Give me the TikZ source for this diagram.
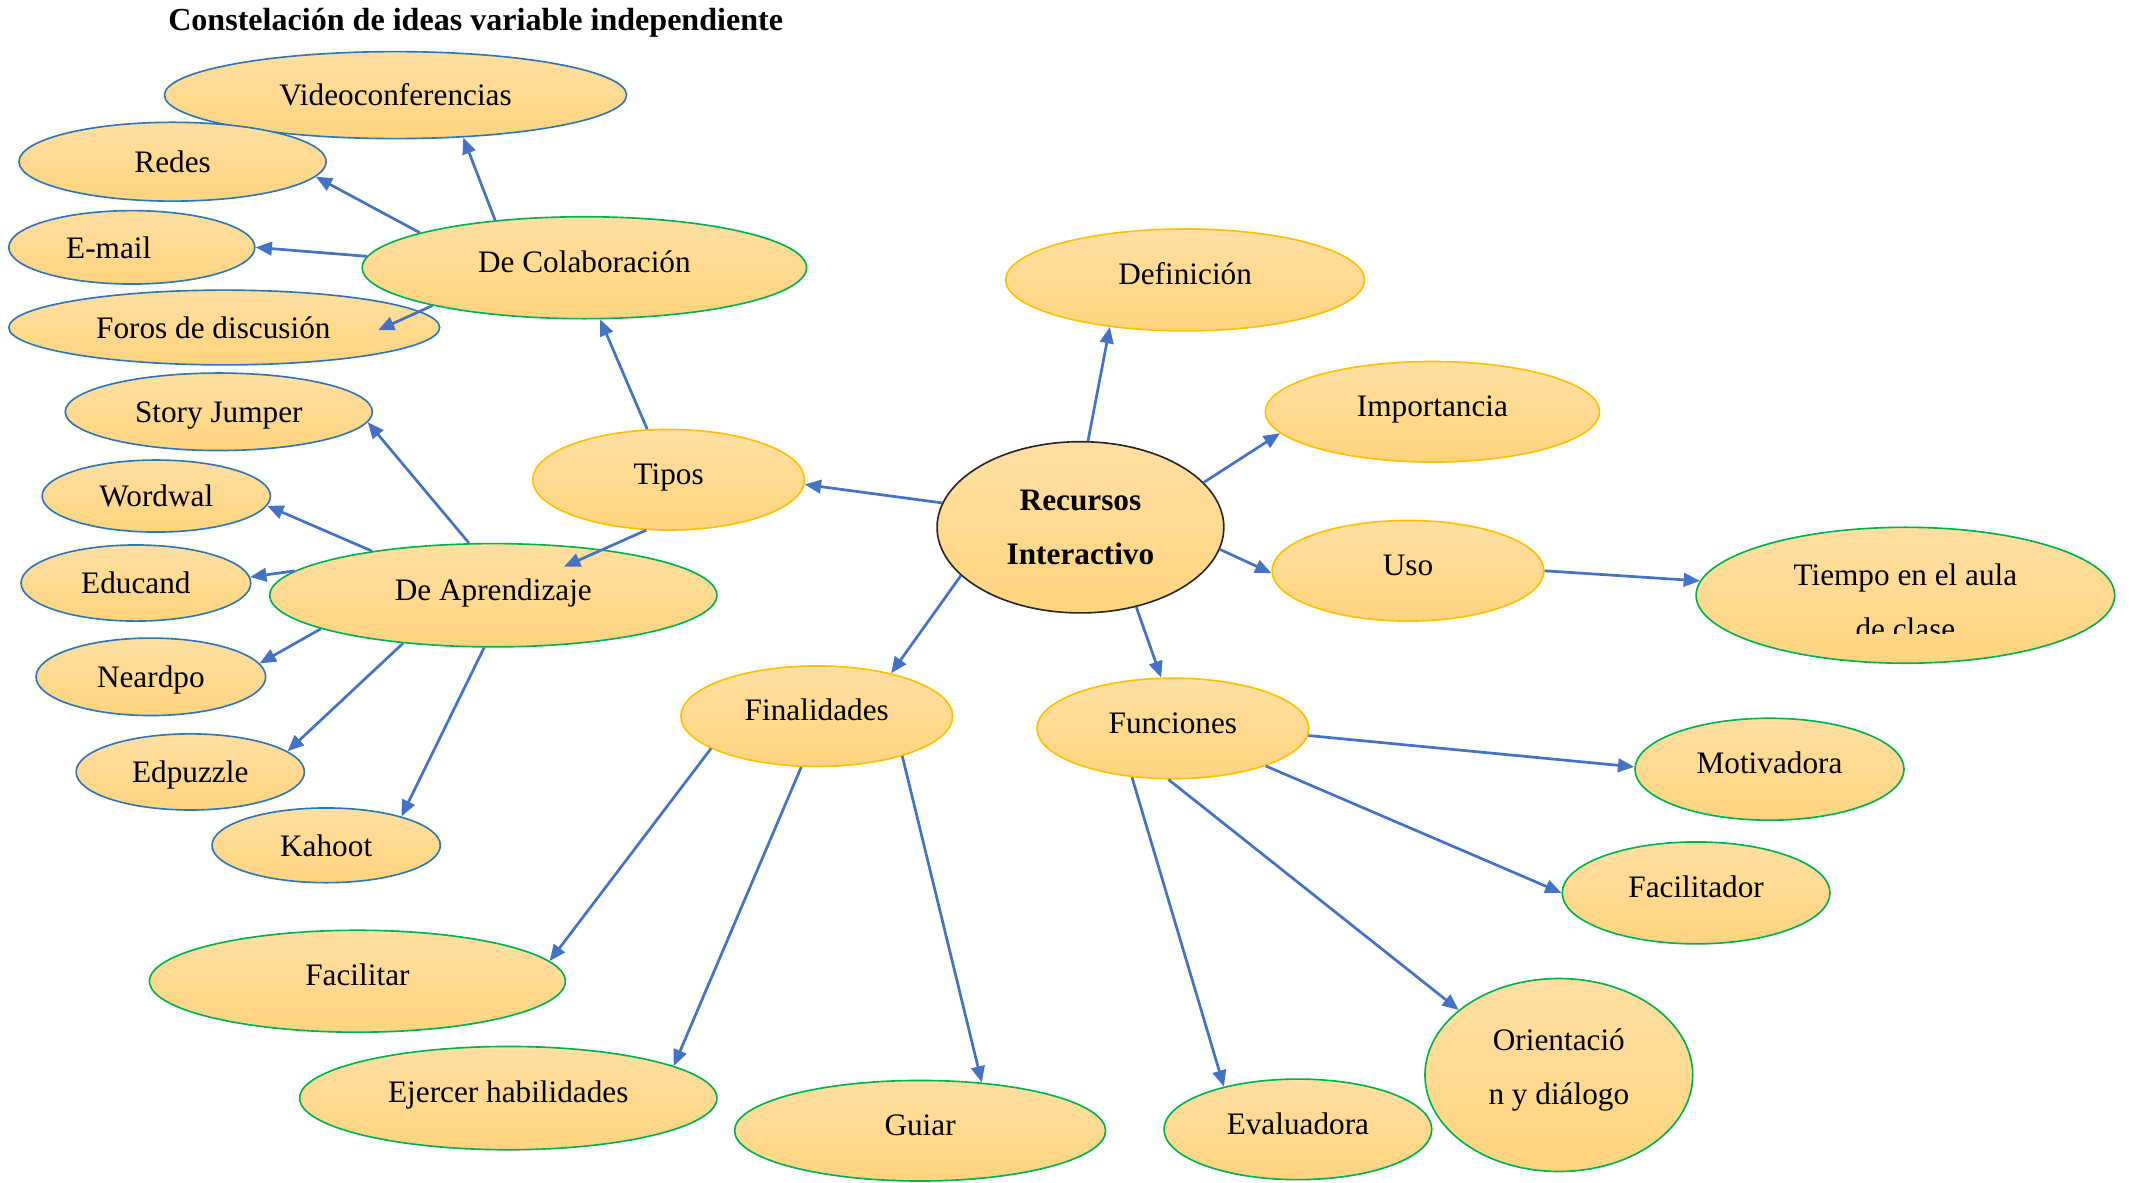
\documentclass[tikz,border=0pt]{standalone}
\usepackage{fontspec}
\setmainfont{Liberation Serif}
\usetikzlibrary{shapes.geometric}
\usetikzlibrary{arrows.meta}
\definecolor{fillTop}{HTML}{FFDFA2}
\definecolor{fillBot}{HTML}{FED47E}
\definecolor{lineBlue}{HTML}{2E75B6}
\definecolor{lineGreen}{HTML}{00B050}
\definecolor{lineYellow}{HTML}{FFC000}
\definecolor{arrowBlue}{HTML}{4472C4}
\newcommand{\idfont}{\fontsize{11.5}{20}\selectfont}
\tikzstyle{bubble} = [ellipse, top color=fillTop, bottom color=fillBot, line width=0.6pt, inner sep=0pt, font=\idfont]
\tikzstyle{one} = [text height=8pt, text depth=4.5pt]
\tikzstyle{ideaB} = [bubble, text height=10pt, text depth=2pt, draw=lineBlue]
\tikzstyle{ideaG} = [bubble, one, draw=lineGreen]
\tikzstyle{ideaY} = [bubble, one, draw=lineYellow]
\tikzstyle{link} = [draw=arrowBlue, line width=1pt, -{Triangle[length=6pt,width=5pt]}]
\tikzset{sz/.style 2 args={minimum width=#1pt, minimum height=#2pt}}

\begin{document}
\begin{tikzpicture}[x=0.5pt, y=-0.5pt]
\useasboundingbox (0,0) rectangle (1568,870);

% Title
\node[font=\bfseries\fontsize{11.8}{14}\selectfont] (title) at (350,17) {Constelación de ideas variable independiente};

% Define nodes
\node[bubble, draw=black!85, align=center, sz={105.5}{63}, font=\bfseries\idfont] (rec) at (795,388) {Recursos\\Interactivo};
\node[ideaY, sz={132}{37.5}]   (def)    at (872,206)  {Definición};
\node[ideaY, sz={123}{37}]     (imp)    at (1054,303) {Importancia};
\node[ideaY, sz={100}{37}]     (uso)    at (1036,420) {Uso};
\node[ideaY, sz={100}{37}]     (tipos)  at (492,353)  {Tipos};
\node[ideaY, sz={100}{37}]     (fin)    at (601,527)  {Finalidades};
\node[ideaY, sz={100}{37}]     (fun)    at (863,536)  {Funciones};

\node[bubble, draw=lineGreen, sz={154}{50}] (tiempo) at (1402,438) {};
\begin{scope}
  \clip (1240,380) rectangle (1560,466);
  \node[font=\idfont, align=center] (tiempotxt) at (1402,443) {Tiempo en el aula\\de clase};
\end{scope}

\node[ideaG, sz={163.5}{37.5}] (colab)  at (430,197)  {De Colaboración};
\node[ideaG, sz={164.5}{38}]   (apr)    at (363,438)  {De Aprendizaje};

\node[ideaB, sz={170}{32}]     (video)  at (291,70)   {Videoconferencias};
\node[ideaB, sz={113}{29}]     (redes)  at (127,119)  {Redes};
\node[ideaB, sz={90.5}{27}]    (email)  at (97,182)   {E-mail\hspace*{17pt}};
\node[ideaB, sz={158.5}{27.5}] (foros)  at (165,241)  {Foros de discusión\hspace*{8pt}};

\node[ideaB, sz={113}{28.5}]   (story)  at (161,303)  {Story Jumper};
\node[ideaB, sz={84}{26.5}]    (word)   at (115,365)  {Wordwal};
\node[ideaB, sz={84.5}{28}]    (educ)   at (100,429)  {Educand};
\node[ideaB, sz={84.5}{28.5}]  (neard)  at (111,498)  {Neardpo};
\node[ideaB, sz={84}{28}]      (edpz)   at (140,568)  {Edpuzzle};
\node[ideaB, sz={84}{27.5}]    (kahoot) at (240,622)  {Kahoot};

\node[ideaG, sz={153}{37.5}]   (facilitar) at (263,722) {Facilitar};
\node[ideaG, sz={153.5}{38}]   (ejercer)   at (374,808) {Ejercer habilidades};
\node[ideaG, sz={136.5}{37}]   (guiar)     at (677,832) {Guiar};

\node[ideaG, sz={99}{37.5}]    (motiv)  at (1302,566) {Motivadora};
\node[ideaG, sz={98.5}{37.5}]  (facil)  at (1248,657) {Facilitador};
\node[bubble, draw=lineGreen, align=center, sz={98.5}{71}] (orient) at (1147,791) {Orientació\\n y diálogo\strut};
\node[ideaG, sz={98.5}{37}]    (evalu)  at (955,831)  {Evaluadora};

% Edges
\draw[link] (rec.85)    -- (def.212);%
\draw[link] (rec.20)    -- (imp.188);%
\draw[link] (rec.351)   -- (uso.181);%
\draw[link] (uso.0)     -- (tiempo.176);%
\draw[link] (rec.170)   -- (tipos.358);%
\draw[link] (rec.202)   -- (fin.30);%
\draw[link] (rec.305)   -- (fun.103);%

\draw[link] (tipos.113) -- (colab.287);%
\draw[link] (tipos.246) -- ([xshift=26pt,yshift=10.5pt]apr.center);%

\draw[link] (colab.152) -- (video.328);%
\draw[link] (colab.168) -- (redes.354);%
\draw[link] (colab.177) -- (email.0);%
\draw[link] (colab.194) -- ([xshift=-23pt,yshift=-1pt]foros.east);%

\draw[link] (apr.115)   -- (story.356);%
\draw[link] (apr.160)   -- (word.355);%
\draw[link] (apr.173)   -- (educ.3);%
\draw[link] (apr.191)   -- (neard.7);%
\draw[link] (apr.208)   -- (edpz.12);%
\draw[link] (apr.260)   -- (kahoot.21);%

\draw[link] (fin.197)   -- (facilitar.6);%
\draw[link] (fin.253)   -- (ejercer.11);%
\draw[link] (fin.335)   -- (guiar.38);%

\draw[link] (fun.357)   -- (motiv.179);%
\draw[link] (fun.338)   -- (facil.180);%
\draw[link] (fun.265)   -- (orient.147);%
\draw[link] (fun.230)   -- (evalu.150);%
\end{tikzpicture}
\end{document}
